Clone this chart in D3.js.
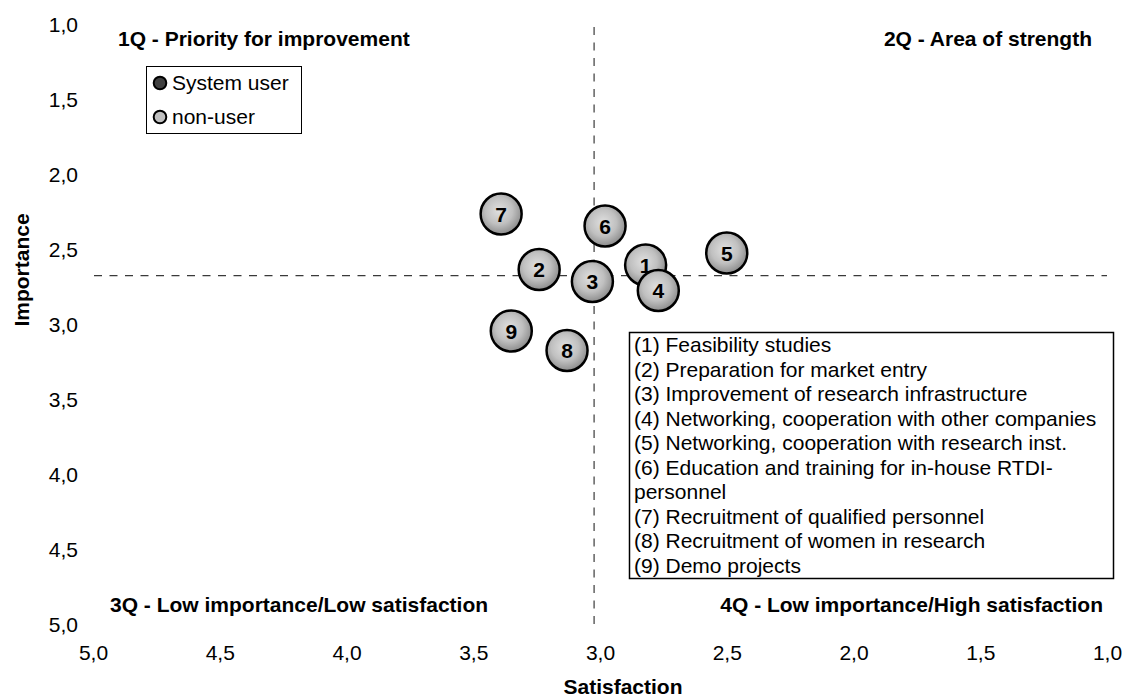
<!DOCTYPE html>
<html><head><meta charset="utf-8">
<script src="https://cdn.jsdelivr.net/npm/d3@7"></script>
<style>
html,body{margin:0;padding:0;background:#fff;}
svg{display:block;font-family:"Liberation Sans",Arial,sans-serif;}
</style></head>
<body>
<svg id="chart" width="1124" height="699"></svg>
<script>
// ---- data ----
const ids = ["1","2","3","4","5","6","7","8","9"];
const labels = [
  "Feasibility studies",
  "Preparation for market entry",
  "Improvement of research infrastructure",
  "Networking, cooperation with other companies",
  "Networking, cooperation with research inst.",
  "Education and training for in-house RTDI-personnel",
  "Recruitment of qualified personnel",
  "Recruitment of women in research",
  "Demo projects"
];
const satisfaction = [2.82, 3.24, 3.03, 2.77, 2.50, 2.98, 3.39, 3.13, 3.35];
const importance   = [2.60, 2.63, 2.71, 2.77, 2.52, 2.34, 2.26, 3.17, 3.04];
const seriesNames = ["System user", "non-user"];
const ticks = [5.0, 4.5, 4.0, 3.5, 3.0, 2.5, 2.0, 1.5, 1.0];
const quadrantTitles = [
  "1Q - Priority for improvement",
  "2Q - Area of strength",
  "3Q - Low importance/Low satisfaction",
  "4Q - Low importance/High satisfaction"
];
const axisTitles = {x: "Satisfaction", y: "Importance"};

// ---- chart ----
const svg = d3.select("#chart");
const x = d3.scaleLinear().domain([5, 1]).range([93, 1107]);
const y = d3.scaleLinear().domain([1, 5]).range([25, 625]);
const loc = d3.formatLocale({decimal: ",", thousands: ".", grouping: [3], currency: ["", "€"]});
const fmt = loc.format(".1f");

const defs = svg.append("defs");
const grad = defs.append("radialGradient").attr("id", "bub")
  .attr("cx", "45%").attr("cy", "42%").attr("r", "60%");
grad.append("stop").attr("offset", "0%").attr("stop-color", "#e0e0e0");
grad.append("stop").attr("offset", "55%").attr("stop-color", "#c0c0c0");
grad.append("stop").attr("offset", "100%").attr("stop-color", "#888");

// axes (labels only)
const yAxis = svg.append("g").attr("transform", `translate(${x(5)},0)`)
  .call(d3.axisLeft(y).tickValues(ticks).tickFormat(fmt).tickSize(0).tickPadding(15));
const xAxis = svg.append("g").attr("transform", `translate(0,${y(5)})`)
  .call(d3.axisBottom(x).tickValues(ticks).tickFormat(fmt).tickSize(0).tickPadding(20));
[yAxis, xAxis].forEach(g => {
  g.select(".domain").remove();
  g.selectAll("text").attr("font-size", 21).attr("fill", "#000")
    .attr("font-family", "'Liberation Sans', Arial, sans-serif");
});

// axis titles
svg.append("text").attr("x", 623).attr("y", 694).attr("text-anchor", "middle")
  .attr("font-size", 21).attr("font-weight", "bold").text(axisTitles.x);
svg.append("text").attr("transform", "translate(29,270) rotate(-90)").attr("text-anchor", "middle")
  .attr("font-size", 21).attr("font-weight", "bold").text(axisTitles.y);

// mean lines
const meanS = d3.mean(satisfaction), meanI = d3.mean(importance);
svg.append("line").attr("x1", x(meanS)).attr("x2", x(meanS)).attr("y1", y(1) + 2).attr("y2", y(5))
  .attr("stroke", "#3a3a3a").attr("stroke-width", 1.2).attr("stroke-dasharray", "8,7.5");
svg.append("line").attr("x1", x(5) + 1).attr("x2", x(1)).attr("y1", y(meanI)).attr("y2", y(meanI))
  .attr("stroke", "#3a3a3a").attr("stroke-width", 1.2).attr("stroke-dasharray", "8,7.5");

// quadrant titles
const qt = svg.append("g").attr("font-size", 21).attr("font-weight", "bold");
qt.append("text").attr("x", 118).attr("y", 46).text(quadrantTitles[0]);
qt.append("text").attr("x", 1092).attr("y", 46).attr("text-anchor", "end").text(quadrantTitles[1]);
qt.append("text").attr("x", 110).attr("y", 612).text(quadrantTitles[2]);
qt.append("text").attr("x", 1103).attr("y", 612).attr("text-anchor", "end").text(quadrantTitles[3]);

// bubbles
const data = ids.map((id, i) => ({id, s: satisfaction[i], imp: importance[i]}));
const b = svg.append("g").selectAll("g").data(data).join("g")
  .attr("transform", d => `translate(${x(d.s)},${y(d.imp)})`);
b.append("circle").attr("r", 20.5).attr("fill", "url(#bub)")
  .attr("stroke", "#000").attr("stroke-width", 2.5);
b.append("text").attr("text-anchor", "middle").attr("dy", "0.36em")
  .attr("font-size", 21).attr("font-weight", "bold").text(d => d.id);

// series legend
const lg = svg.append("g");
lg.append("rect").attr("x", 146.5).attr("y", 66.5).attr("width", 155).attr("height", 67)
  .attr("fill", "#fff").attr("stroke", "#000").attr("stroke-width", 1);
const sCol = ["#404040", "#c0c0c0"];
seriesNames.forEach((n, i) => {
  const cy = 83 + i * 34;
  lg.append("circle").attr("cx", 160).attr("cy", cy).attr("r", 6.3)
    .attr("fill", sCol[i]).attr("stroke", "#000").attr("stroke-width", 2);
  lg.append("text").attr("x", 172).attr("y", cy).attr("dy", "0.35em")
    .attr("font-size", 21).text(n);
});

// category legend
const cg = svg.append("g");
cg.append("rect").attr("x", 629.5).attr("y", 332.5).attr("width", 484).attr("height", 246)
  .attr("fill", "#fff").attr("stroke", "#000").attr("stroke-width", 1.5);
const maxW = 476;
let line = 0;
const lineH = 24.55;
const tmp = cg.append("text").attr("font-size", 21);
labels.forEach((lab, i) => {
  const full = `(${ids[i]}) ${lab}`;
  const tokens = full.match(/[^\s-]+-?|\s+/g);
  let cur = "";
  const lines = [];
  tokens.forEach(t => {
    const test = cur + t;
    tmp.text(test.trim());
    if (tmp.node().getComputedTextLength() > maxW && cur.trim() !== "") {
      lines.push(cur.trim());
      cur = t.trim() ? t : "";
    } else cur = test;
  });
  if (cur.trim()) lines.push(cur.trim());
  lines.forEach(l => {
    cg.append("text").attr("x", 634).attr("y", 352 + line * lineH)
      .attr("font-size", 21).text(l);
    line++;
  });
});
tmp.remove();
</script>
</body></html>
